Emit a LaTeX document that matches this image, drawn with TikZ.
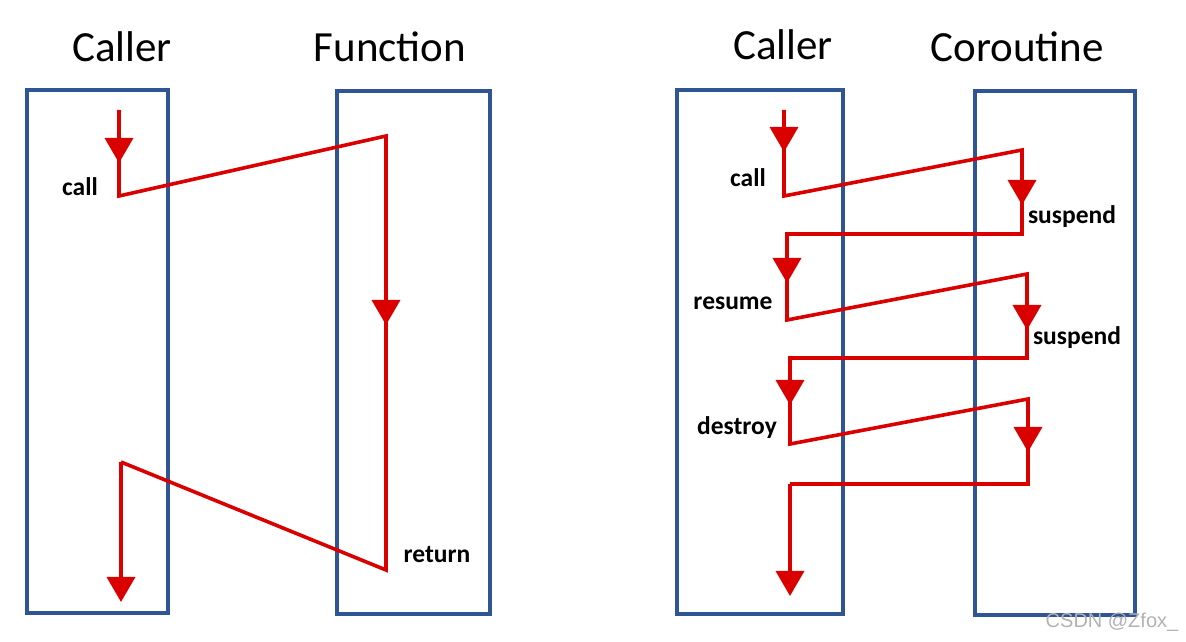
\documentclass[tikz,border=0pt]{standalone}
\usepackage{fontspec}
\setmainfont{Carlito}
\newfontfamily\markfont{Liberation Sans}
\usetikzlibrary{arrows.meta,positioning}
\definecolor{flowred}{RGB}{218,0,0}
\definecolor{laneblue}{RGB}{47,85,151}

\begin{document}
\begin{tikzpicture}[
  lane/.style={draw=laneblue,line width=3.2bp,inner sep=0pt},
  head/.style={font=\fontsize{43bp}{50bp}\selectfont,anchor=base},
  lbl/.style={font=\fontsize{25.5bp}{30bp}\selectfont\bfseries,inner sep=0pt},
  flow/.style={draw=flowred,line width=3.6bp},
  flowtip/.style={flow,-{Triangle[width=28bp,length=25bp]}}]
  \useasboundingbox (0,0) rectangle (1186bp,642bp);
%%
  % Node: lanes
  \node[lane,minimum width=141bp,minimum height=523bp] (callerA) at (97.5bp,290.5bp) {};
  \node[lane,minimum width=153bp,minimum height=523bp] (func) at (413.5bp,289.5bp) {};
  \node[lane,minimum width=166bp,minimum height=524bp] (callerB) at (760bp,290bp) {};
  \node[lane,minimum width=160bp,minimum height=524bp] (coro) at (1055bp,289bp) {};
  % Node: headings
  \node[head] (callerAhd) at (122bp,580bp) {Caller};
  \node[head] (funchd) at (390bp,580bp) {Function};
  \node[head] (callerBhd) at (783bp,582bp) {Caller};
  \node[head] (corohd) at (1017bp,580bp) {Coroutine};
%
  % plain call
  \coordinate (a0) at (119bp,532bp);
  \coordinate (a0t) at (119bp,479bp);
  \coordinate (a1) at (119bp,446bp);
  \coordinate (a2) at (386bp,506bp);
  \coordinate (a2t) at (386bp,317bp);
  \coordinate (a3) at (386bp,72bp);
  \coordinate (a4) at (121bp,180bp);
  \coordinate (a5) at (121bp,40bp);
  % Edge: callerA -> func -> callerA
  \draw[flow] (a0) -- (a1) -- (a2) -- (a3) -- (a4);
  \draw[flowtip] (a0) -- (a0t);
  \draw[flowtip] (a2) -- (a2t);
  \draw[flowtip] (a4) -- (a5);
  \node[lbl] (call) at (80bp,455bp) {call};
  \node[lbl] (ret) at (437bp,87bp) {return};
%
  % coroutine
  \coordinate (b0) at (784bp,532bp);
  \coordinate (b0t) at (784bp,490bp);
  \coordinate (b1) at (784bp,446bp);
  \coordinate (b2) at (1022bp,492bp);
  \coordinate (b2t) at (1022bp,437bp);
  \coordinate (b3) at (1022bp,408bp);
  \coordinate (b4) at (787bp,408bp);
  \coordinate (b4t) at (787bp,359bp);
  \coordinate (b5) at (787bp,322bp);
  \coordinate (b6) at (1027bp,368bp);
  \coordinate (b6t) at (1027bp,312bp);
  \coordinate (b7) at (1027bp,284bp);
  \coordinate (b8) at (790bp,284bp);
  \coordinate (b8t) at (790bp,237bp);
  \coordinate (b9) at (790bp,198bp);
  \coordinate (b10) at (1028bp,243bp);
  \coordinate (b10t) at (1028bp,190bp);
  \coordinate (b11) at (1028bp,158bp);
  \coordinate (b12) at (790bp,158bp);
  \coordinate (b13) at (790bp,46bp);
  % Edge: callerB -> coro -> callerB
  \draw[flow] (b0) -- (b1) -- (b2) -- (b3) -- (b4) -- (b5) -- (b6) -- (b7)
    -- (b8) -- (b9) -- (b10) -- (b11) -- (b12);
  \draw[flowtip] (b0) -- (b0t);
  \draw[flowtip] (b2) -- (b2t);
  \draw[flowtip] (b4) -- (b4t);
  \draw[flowtip] (b6) -- (b6t);
  \draw[flowtip] (b8) -- (b8t);
  \draw[flowtip] (b10) -- (b10t);
  \draw[flowtip] (b12) -- (b13);
  \node[lbl] (callB) at (748bp,464bp) {call};
  \node[lbl] (susp1) at (1072bp,425bp) {suspend};
  \node[lbl] (res) at (733bp,339bp) {resume};
  \node[lbl] (susp2) at (1077bp,304bp) {suspend};
  \node[lbl] (dest) at (737bp,214bp) {destroy};
%
  \node[font=\markfont\fontsize{20bp}{24bp}\selectfont,text=black!30,inner sep=0pt] (mark) at (1112bp,20bp) {CSDN @Zfox\_};
\end{tikzpicture}
\end{document}
